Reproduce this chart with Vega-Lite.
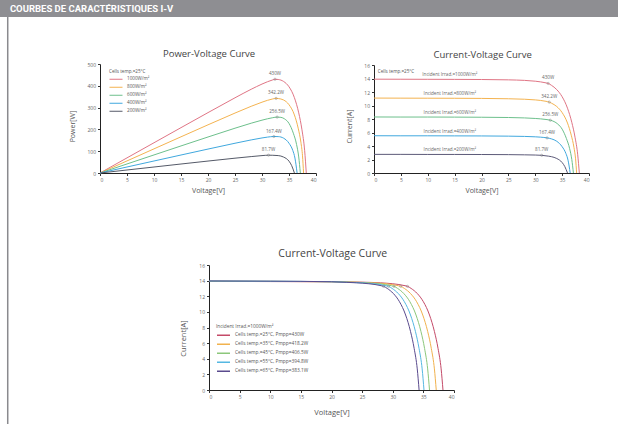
{
  "$schema": "https://vega.github.io/schema/vega-lite/v6.json",
  "width": 618,
  "height": 424,
  "padding": 0,
  "autosize": {"type": "none"},
  "background": "white",
  "config": {
    "view": {"stroke": null},
    "font": "Open Sans",
    "axis": {
      "domainColor": "#222",
      "domainWidth": 1,
      "tickColor": "#333",
      "tickSize": 2.5,
      "labelColor": "#666",
      "labelFontSize": 5,
      "labelPadding": 2,
      "titleFontSize": 7,
      "titleFontWeight": "normal",
      "titleColor": "#555",
      "grid": false
    },
    "legend": {"titleFontWeight": "normal", "titleColor": "#555", "labelColor": "#555", "padding": 0}
  },
  "datasets": {
    "one": [{"k": 1}],
    "irr": [
      {"s": "1000W/m²", "V": 0, "I": 13.9, "P": 0},
      {"s": "1000W/m²", "V": 5, "I": 13.89, "P": 69.45},
      {"s": "1000W/m²", "V": 10, "I": 13.88, "P": 138.8},
      {"s": "1000W/m²", "V": 15, "I": 13.87, "P": 208.05},
      {"s": "1000W/m²", "V": 20, "I": 13.85, "P": 277},
      {"s": "1000W/m²", "V": 25, "I": 13.8, "P": 345},
      {"s": "1000W/m²", "V": 28, "I": 13.72, "P": 384.16},
      {"s": "1000W/m²", "V": 30, "I": 13.6, "P": 408},
      {"s": "1000W/m²", "V": 31, "I": 13.5, "P": 418.5},
      {"s": "1000W/m²", "V": 32, "I": 13.35, "P": 427.2},
      {"s": "1000W/m²", "V": 32.4, "I": 13.27, "P": 429.95},
      {"s": "1000W/m²", "V": 33, "I": 13.0, "P": 429},
      {"s": "1000W/m²", "V": 34, "I": 12.35, "P": 419.9},
      {"s": "1000W/m²", "V": 35, "I": 11.3, "P": 395.5},
      {"s": "1000W/m²", "V": 36, "I": 9.6, "P": 345.6},
      {"s": "1000W/m²", "V": 36.8, "I": 7.5, "P": 276},
      {"s": "1000W/m²", "V": 37.4, "I": 5.3, "P": 198.22},
      {"s": "1000W/m²", "V": 37.9, "I": 2.7, "P": 102.33},
      {"s": "1000W/m²", "V": 38.2, "I": 0, "P": 0},
      {"s": "800W/m²", "V": 0, "I": 11.1, "P": 0},
      {"s": "800W/m²", "V": 5, "I": 11.09, "P": 55.45},
      {"s": "800W/m²", "V": 10, "I": 11.08, "P": 110.8},
      {"s": "800W/m²", "V": 15, "I": 11.07, "P": 166.05},
      {"s": "800W/m²", "V": 20, "I": 11.05, "P": 221},
      {"s": "800W/m²", "V": 25, "I": 11.0, "P": 275},
      {"s": "800W/m²", "V": 28, "I": 10.93, "P": 306.04},
      {"s": "800W/m²", "V": 30, "I": 10.83, "P": 324.9},
      {"s": "800W/m²", "V": 31, "I": 10.75, "P": 333.25},
      {"s": "800W/m²", "V": 32, "I": 10.62, "P": 339.84},
      {"s": "800W/m²", "V": 32.6, "I": 10.5, "P": 342.3},
      {"s": "800W/m²", "V": 33, "I": 10.35, "P": 341.55},
      {"s": "800W/m²", "V": 34, "I": 9.85, "P": 334.9},
      {"s": "800W/m²", "V": 35, "I": 8.95, "P": 313.25},
      {"s": "800W/m²", "V": 36, "I": 7.4, "P": 266.4},
      {"s": "800W/m²", "V": 36.7, "I": 5.6, "P": 205.52},
      {"s": "800W/m²", "V": 37.2, "I": 3.8, "P": 141.36},
      {"s": "800W/m²", "V": 37.5, "I": 2.1, "P": 78.75},
      {"s": "800W/m²", "V": 37.7, "I": 0, "P": 0},
      {"s": "600W/m²", "V": 0, "I": 8.3, "P": 0},
      {"s": "600W/m²", "V": 5, "I": 8.29, "P": 41.45},
      {"s": "600W/m²", "V": 10, "I": 8.29, "P": 82.9},
      {"s": "600W/m²", "V": 15, "I": 8.28, "P": 124.2},
      {"s": "600W/m²", "V": 20, "I": 8.26, "P": 165.2},
      {"s": "600W/m²", "V": 25, "I": 8.22, "P": 205.5},
      {"s": "600W/m²", "V": 28, "I": 8.16, "P": 228.48},
      {"s": "600W/m²", "V": 30, "I": 8.08, "P": 242.4},
      {"s": "600W/m²", "V": 31, "I": 8.02, "P": 248.62},
      {"s": "600W/m²", "V": 32, "I": 7.93, "P": 253.76},
      {"s": "600W/m²", "V": 32.8, "I": 7.82, "P": 256.5},
      {"s": "600W/m²", "V": 33.5, "I": 7.62, "P": 255.27},
      {"s": "600W/m²", "V": 34.2, "I": 7.25, "P": 247.95},
      {"s": "600W/m²", "V": 35, "I": 6.5, "P": 227.5},
      {"s": "600W/m²", "V": 35.8, "I": 5.1, "P": 182.58},
      {"s": "600W/m²", "V": 36.4, "I": 3.6, "P": 131.04},
      {"s": "600W/m²", "V": 36.8, "I": 2.0, "P": 73.6},
      {"s": "600W/m²", "V": 37.1, "I": 0, "P": 0},
      {"s": "400W/m²", "V": 0, "I": 5.52, "P": 0},
      {"s": "400W/m²", "V": 5, "I": 5.51, "P": 27.55},
      {"s": "400W/m²", "V": 10, "I": 5.51, "P": 55.1},
      {"s": "400W/m²", "V": 15, "I": 5.5, "P": 82.5},
      {"s": "400W/m²", "V": 20, "I": 5.49, "P": 109.8},
      {"s": "400W/m²", "V": 25, "I": 5.46, "P": 136.5},
      {"s": "400W/m²", "V": 28, "I": 5.42, "P": 151.76},
      {"s": "400W/m²", "V": 30, "I": 5.36, "P": 160.8},
      {"s": "400W/m²", "V": 31, "I": 5.31, "P": 164.61},
      {"s": "400W/m²", "V": 32.2, "I": 5.2, "P": 167.44},
      {"s": "400W/m²", "V": 33, "I": 5.06, "P": 166.98},
      {"s": "400W/m²", "V": 34, "I": 4.7, "P": 159.8},
      {"s": "400W/m²", "V": 35, "I": 3.9, "P": 136.5},
      {"s": "400W/m²", "V": 35.7, "I": 2.9, "P": 103.53},
      {"s": "400W/m²", "V": 36.1, "I": 1.9, "P": 68.59},
      {"s": "400W/m²", "V": 36.5, "I": 0, "P": 0},
      {"s": "200W/m²", "V": 0, "I": 2.76, "P": 0},
      {"s": "200W/m²", "V": 5, "I": 2.76, "P": 13.8},
      {"s": "200W/m²", "V": 10, "I": 2.75, "P": 27.5},
      {"s": "200W/m²", "V": 15, "I": 2.75, "P": 41.25},
      {"s": "200W/m²", "V": 20, "I": 2.74, "P": 54.8},
      {"s": "200W/m²", "V": 25, "I": 2.72, "P": 68},
      {"s": "200W/m²", "V": 28, "I": 2.69, "P": 75.32},
      {"s": "200W/m²", "V": 30, "I": 2.66, "P": 79.8},
      {"s": "200W/m²", "V": 31.2, "I": 2.62, "P": 81.74},
      {"s": "200W/m²", "V": 32, "I": 2.54, "P": 81.28},
      {"s": "200W/m²", "V": 33, "I": 2.42, "P": 79.86},
      {"s": "200W/m²", "V": 34, "I": 2.15, "P": 73.1},
      {"s": "200W/m²", "V": 35, "I": 1.55, "P": 54.25},
      {"s": "200W/m²", "V": 35.5, "I": 0.95, "P": 33.73},
      {"s": "200W/m²", "V": 36, "I": 0, "P": 0}
    ],
    "mpp": [
      {"s": "1000W/m²", "V": 32.4, "I": 13.27, "P": 430, "lbl": "430W", "Isc": 13.9, "irr": "Incident Irrad.=1000W/m²"},
      {"s": "800W/m²", "V": 32.6, "I": 10.5, "P": 342.2, "lbl": "342.2W", "Isc": 11.1, "irr": "Incident Irrad.=800W/m²"},
      {"s": "600W/m²", "V": 32.8, "I": 7.82, "P": 256.5, "lbl": "256.5W", "Isc": 8.3, "irr": "Incident Irrad.=600W/m²"},
      {"s": "400W/m²", "V": 32.2, "I": 5.2, "P": 167.4, "lbl": "167.4W", "Isc": 5.52, "irr": "Incident Irrad.=400W/m²"},
      {"s": "200W/m²", "V": 31.2, "I": 2.62, "P": 81.7, "lbl": "81.7W", "Isc": 2.76, "irr": "Incident Irrad.=200W/m²"}
    ],
    "temp": [
      {"t": "Cells temp.=25°C, Pmpp=430W", "V": 0, "I": 13.9},
      {"t": "Cells temp.=25°C, Pmpp=430W", "V": 10, "I": 13.88},
      {"t": "Cells temp.=25°C, Pmpp=430W", "V": 20, "I": 13.85},
      {"t": "Cells temp.=25°C, Pmpp=430W", "V": 25, "I": 13.8},
      {"t": "Cells temp.=25°C, Pmpp=430W", "V": 28, "I": 13.72},
      {"t": "Cells temp.=25°C, Pmpp=430W", "V": 30, "I": 13.6},
      {"t": "Cells temp.=25°C, Pmpp=430W", "V": 31, "I": 13.5},
      {"t": "Cells temp.=25°C, Pmpp=430W", "V": 32, "I": 13.35},
      {"t": "Cells temp.=25°C, Pmpp=430W", "V": 32.4, "I": 13.27},
      {"t": "Cells temp.=25°C, Pmpp=430W", "V": 33, "I": 13.0},
      {"t": "Cells temp.=25°C, Pmpp=430W", "V": 34, "I": 12.35},
      {"t": "Cells temp.=25°C, Pmpp=430W", "V": 35, "I": 11.3},
      {"t": "Cells temp.=25°C, Pmpp=430W", "V": 36, "I": 9.6},
      {"t": "Cells temp.=25°C, Pmpp=430W", "V": 36.8, "I": 7.5},
      {"t": "Cells temp.=25°C, Pmpp=430W", "V": 37.4, "I": 5.3},
      {"t": "Cells temp.=25°C, Pmpp=430W", "V": 37.9, "I": 2.7},
      {"t": "Cells temp.=25°C, Pmpp=430W", "V": 38.2, "I": 0},
      {"t": "Cells temp.=35°C, Pmpp=418.2W", "V": 0, "I": 13.92},
      {"t": "Cells temp.=35°C, Pmpp=418.2W", "V": 10, "I": 13.9},
      {"t": "Cells temp.=35°C, Pmpp=418.2W", "V": 20, "I": 13.86},
      {"t": "Cells temp.=35°C, Pmpp=418.2W", "V": 25, "I": 13.78},
      {"t": "Cells temp.=35°C, Pmpp=418.2W", "V": 26.9, "I": 13.72},
      {"t": "Cells temp.=35°C, Pmpp=418.2W", "V": 28.9, "I": 13.6},
      {"t": "Cells temp.=35°C, Pmpp=418.2W", "V": 29.9, "I": 13.5},
      {"t": "Cells temp.=35°C, Pmpp=418.2W", "V": 30.9, "I": 13.35},
      {"t": "Cells temp.=35°C, Pmpp=418.2W", "V": 31.3, "I": 13.27},
      {"t": "Cells temp.=35°C, Pmpp=418.2W", "V": 31.9, "I": 13.0},
      {"t": "Cells temp.=35°C, Pmpp=418.2W", "V": 32.9, "I": 12.35},
      {"t": "Cells temp.=35°C, Pmpp=418.2W", "V": 33.9, "I": 11.3},
      {"t": "Cells temp.=35°C, Pmpp=418.2W", "V": 34.9, "I": 9.6},
      {"t": "Cells temp.=35°C, Pmpp=418.2W", "V": 35.7, "I": 7.5},
      {"t": "Cells temp.=35°C, Pmpp=418.2W", "V": 36.3, "I": 5.3},
      {"t": "Cells temp.=35°C, Pmpp=418.2W", "V": 36.8, "I": 2.7},
      {"t": "Cells temp.=35°C, Pmpp=418.2W", "V": 37.1, "I": 0},
      {"t": "Cells temp.=45°C, Pmpp=406.5W", "V": 0, "I": 13.93},
      {"t": "Cells temp.=45°C, Pmpp=406.5W", "V": 10, "I": 13.91},
      {"t": "Cells temp.=45°C, Pmpp=406.5W", "V": 20, "I": 13.86},
      {"t": "Cells temp.=45°C, Pmpp=406.5W", "V": 24, "I": 13.78},
      {"t": "Cells temp.=45°C, Pmpp=406.5W", "V": 25.8, "I": 13.72},
      {"t": "Cells temp.=45°C, Pmpp=406.5W", "V": 27.8, "I": 13.6},
      {"t": "Cells temp.=45°C, Pmpp=406.5W", "V": 28.8, "I": 13.5},
      {"t": "Cells temp.=45°C, Pmpp=406.5W", "V": 29.8, "I": 13.35},
      {"t": "Cells temp.=45°C, Pmpp=406.5W", "V": 30.2, "I": 13.27},
      {"t": "Cells temp.=45°C, Pmpp=406.5W", "V": 30.8, "I": 13.0},
      {"t": "Cells temp.=45°C, Pmpp=406.5W", "V": 31.8, "I": 12.35},
      {"t": "Cells temp.=45°C, Pmpp=406.5W", "V": 32.8, "I": 11.3},
      {"t": "Cells temp.=45°C, Pmpp=406.5W", "V": 33.8, "I": 9.6},
      {"t": "Cells temp.=45°C, Pmpp=406.5W", "V": 34.6, "I": 7.5},
      {"t": "Cells temp.=45°C, Pmpp=406.5W", "V": 35.2, "I": 5.3},
      {"t": "Cells temp.=45°C, Pmpp=406.5W", "V": 35.7, "I": 2.7},
      {"t": "Cells temp.=45°C, Pmpp=406.5W", "V": 36.0, "I": 0},
      {"t": "Cells temp.=55°C, Pmpp=394.8W", "V": 0, "I": 13.95},
      {"t": "Cells temp.=55°C, Pmpp=394.8W", "V": 10, "I": 13.92},
      {"t": "Cells temp.=55°C, Pmpp=394.8W", "V": 20, "I": 13.86},
      {"t": "Cells temp.=55°C, Pmpp=394.8W", "V": 23, "I": 13.78},
      {"t": "Cells temp.=55°C, Pmpp=394.8W", "V": 24.9, "I": 13.72},
      {"t": "Cells temp.=55°C, Pmpp=394.8W", "V": 26.9, "I": 13.6},
      {"t": "Cells temp.=55°C, Pmpp=394.8W", "V": 27.9, "I": 13.5},
      {"t": "Cells temp.=55°C, Pmpp=394.8W", "V": 28.9, "I": 13.35},
      {"t": "Cells temp.=55°C, Pmpp=394.8W", "V": 29.3, "I": 13.27},
      {"t": "Cells temp.=55°C, Pmpp=394.8W", "V": 29.9, "I": 13.0},
      {"t": "Cells temp.=55°C, Pmpp=394.8W", "V": 30.9, "I": 12.35},
      {"t": "Cells temp.=55°C, Pmpp=394.8W", "V": 31.9, "I": 11.3},
      {"t": "Cells temp.=55°C, Pmpp=394.8W", "V": 32.9, "I": 9.6},
      {"t": "Cells temp.=55°C, Pmpp=394.8W", "V": 33.7, "I": 7.5},
      {"t": "Cells temp.=55°C, Pmpp=394.8W", "V": 34.3, "I": 5.3},
      {"t": "Cells temp.=55°C, Pmpp=394.8W", "V": 34.8, "I": 2.7},
      {"t": "Cells temp.=55°C, Pmpp=394.8W", "V": 35.1, "I": 0},
      {"t": "Cells temp.=65°C, Pmpp=383.1W", "V": 0, "I": 13.96},
      {"t": "Cells temp.=65°C, Pmpp=383.1W", "V": 10, "I": 13.93},
      {"t": "Cells temp.=65°C, Pmpp=383.1W", "V": 20, "I": 13.86},
      {"t": "Cells temp.=65°C, Pmpp=383.1W", "V": 22.5, "I": 13.78},
      {"t": "Cells temp.=65°C, Pmpp=383.1W", "V": 24.1, "I": 13.72},
      {"t": "Cells temp.=65°C, Pmpp=383.1W", "V": 26.1, "I": 13.6},
      {"t": "Cells temp.=65°C, Pmpp=383.1W", "V": 27.1, "I": 13.5},
      {"t": "Cells temp.=65°C, Pmpp=383.1W", "V": 28.1, "I": 13.35},
      {"t": "Cells temp.=65°C, Pmpp=383.1W", "V": 28.5, "I": 13.27},
      {"t": "Cells temp.=65°C, Pmpp=383.1W", "V": 29.1, "I": 13.0},
      {"t": "Cells temp.=65°C, Pmpp=383.1W", "V": 30.1, "I": 12.35},
      {"t": "Cells temp.=65°C, Pmpp=383.1W", "V": 31.1, "I": 11.3},
      {"t": "Cells temp.=65°C, Pmpp=383.1W", "V": 32.1, "I": 9.6},
      {"t": "Cells temp.=65°C, Pmpp=383.1W", "V": 32.9, "I": 7.5},
      {"t": "Cells temp.=65°C, Pmpp=383.1W", "V": 33.5, "I": 5.3},
      {"t": "Cells temp.=65°C, Pmpp=383.1W", "V": 34.0, "I": 2.7},
      {"t": "Cells temp.=65°C, Pmpp=383.1W", "V": 34.3, "I": 0}
    ],
    "tmpp": [
      {"t": "Cells temp.=25°C, Pmpp=430W", "V": 32.4, "I": 13.27},
      {"t": "Cells temp.=35°C, Pmpp=418.2W", "V": 31.3, "I": 13.27},
      {"t": "Cells temp.=45°C, Pmpp=406.5W", "V": 30.2, "I": 13.27},
      {"t": "Cells temp.=55°C, Pmpp=394.8W", "V": 29.3, "I": 13.27},
      {"t": "Cells temp.=65°C, Pmpp=383.1W", "V": 28.5, "I": 13.27}
    ]
  },
  "layer": [
    {
      "data": {"name": "one"},
      "layer": [
        {
          "mark": {"type": "rule", "color": "#8a8a8e", "strokeWidth": 1.5},
          "encoding": {
            "x": {"datum": 0.0125, "type": "quantitative", "scale": {"domain": [0, 1], "range": [0, 618], "nice": false}, "axis": null}
          }
        },
        {
          "mark": {"type": "rect", "color": "#8e8e92"},
          "encoding": {
            "x": {"datum": 0, "type": "quantitative", "axis": null},
            "x2": {"datum": 1},
            "y": {"datum": 0, "type": "quantitative", "scale": {"domain": [0, 1], "range": [0, 17], "nice": false}, "axis": null},
            "y2": {"datum": 1}
          }
        },
        {
          "mark": {"type": "text", "text": "COURBES DE CARACTÉRISTIQUES I-V", "color": "white", "font": "Roboto", "fontWeight": "bold", "fontSize": 9.5, "align": "left", "baseline": "middle"},
          "encoding": {
            "x": {"datum": 0.016, "type": "quantitative", "axis": null},
            "y": {"datum": 0.55, "type": "quantitative", "axis": null}
          }
        }
      ]
    },
    {
      "layer": [
        {
          "data": {"name": "irr"},
          "mark": {"type": "line", "strokeWidth": 1, "interpolate": "monotone"},
          "encoding": {
            "x": {"field": "V", "type": "quantitative", "scale": {"domain": [0, 40], "range": [100, 316], "nice": false},
              "axis": {"orient": "bottom", "offset": -251, "values": [0, 5, 10, 15, 20, 25, 30, 35, 40], "title": "Voltage[V]", "titlePadding": 4}},
            "y": {"field": "P", "type": "quantitative", "scale": {"domain": [0, 500], "range": [173, 64], "nice": false},
              "axis": {"orient": "left", "offset": -100, "values": [0, 100, 200, 300, 400, 500], "title": "Power[W]", "titlePadding": 11, "titleY": 126}},
            "color": {"field": "s", "type": "nominal",
              "scale": {"domain": ["1000W/m²", "800W/m²", "600W/m²", "400W/m²", "200W/m²"], "range": ["#e07585", "#f4b350", "#6dc08c", "#40a8de", "#555a68"]},
              "legend": {"orient": "none", "legendX": 109, "legendY": 69, "title": "Cells temp.=25°C", "titleFontSize": 4.6, "labelFontSize": 4.6, "symbolType": "stroke", "symbolSize": 169, "symbolStrokeWidth": 1, "clipHeight": 7.3, "rowPadding": 0, "titlePadding": 2, "labelOffset": 4}}
          }
        },
        {
          "data": {"name": "mpp"},
          "mark": {"type": "text", "fontSize": 4.6, "color": "#666", "dy": -5},
          "encoding": {
            "x": {"field": "V", "type": "quantitative"},
            "y": {"field": "P", "type": "quantitative"},
            "text": {"field": "lbl"}
          }
        },
        {
          "data": {"name": "mpp"},
          "mark": {"type": "point", "size": 5, "color": "#777", "strokeWidth": 0.6},
          "encoding": {
            "x": {"field": "V", "type": "quantitative"},
            "y": {"field": "P", "type": "quantitative"}
          }
        },
        {
          "data": {"name": "one"},
          "mark": {"type": "text", "text": "Power-Voltage Curve", "fontSize": 9.5, "color": "#444"},
          "encoding": {
            "x": {"datum": 20.2, "type": "quantitative"},
            "y": {"datum": 546, "type": "quantitative"}
          }
        }
      ]
    },
    {
      "layer": [
        {
          "data": {"name": "irr"},
          "mark": {"type": "line", "strokeWidth": 1, "interpolate": "monotone"},
          "encoding": {
            "x": {"field": "V", "type": "quantitative", "scale": {"domain": [0, 40], "range": [374, 589], "nice": false},
              "axis": {"orient": "bottom", "offset": -251, "values": [0, 5, 10, 15, 20, 25, 30, 35, 40], "title": "Voltage[V]", "titlePadding": 4}},
            "y": {"field": "I", "type": "quantitative", "scale": {"domain": [0, 16], "range": [173, 65], "nice": false},
              "axis": {"orient": "left", "offset": -374, "values": [0, 2, 4, 6, 8, 10, 12, 14, 16], "title": "Current[A]", "titlePadding": 11, "titleY": 126}},
            "color": {"field": "s", "type": "nominal",
              "scale": {"domain": ["1000W/m²", "800W/m²", "600W/m²", "400W/m²", "200W/m²"], "range": ["#e07585", "#f4b350", "#6dc08c", "#40a8de", "#5c5a78"]},
              "legend": null}
          }
        },
        {
          "data": {"name": "mpp"},
          "mark": {"type": "text", "fontSize": 4.6, "color": "#666", "dy": -5},
          "encoding": {
            "x": {"field": "V", "type": "quantitative"},
            "y": {"field": "I", "type": "quantitative"},
            "text": {"field": "lbl"}
          }
        },
        {
          "data": {"name": "mpp"},
          "mark": {"type": "point", "size": 5, "color": "#777", "strokeWidth": 0.6},
          "encoding": {
            "x": {"field": "V", "type": "quantitative"},
            "y": {"field": "I", "type": "quantitative"}
          }
        },
        {
          "data": {"name": "mpp"},
          "mark": {"type": "text", "fontSize": 4.6, "color": "#666", "dy": -4},
          "encoding": {
            "x": {"datum": 14.1, "type": "quantitative"},
            "y": {"field": "Isc", "type": "quantitative"},
            "text": {"field": "irr"}
          }
        },
        {
          "data": {"name": "one"},
          "mark": {"type": "text", "text": "Cells temp.=25°C", "fontSize": 4.6, "color": "#555", "align": "left"},
          "encoding": {
            "x": {"datum": 0.7, "type": "quantitative"},
            "y": {"datum": 15.0, "type": "quantitative"}
          }
        },
        {
          "data": {"name": "one"},
          "mark": {"type": "text", "text": "Current-Voltage Curve", "fontSize": 9.5, "color": "#444"},
          "encoding": {
            "x": {"datum": 20.2, "type": "quantitative"},
            "y": {"datum": 17.5, "type": "quantitative"}
          }
        }
      ]
    },
    {
      "layer": [
        {
          "data": {"name": "temp"},
          "mark": {"type": "line", "strokeWidth": 1, "interpolate": "monotone"},
          "encoding": {
            "x": {"field": "V", "type": "quantitative", "scale": {"domain": [0, 40], "range": [209, 454], "nice": false},
              "axis": {"orient": "bottom", "offset": -34, "values": [0, 5, 10, 15, 20, 25, 30, 35, 40], "title": "Voltage[V]", "titlePadding": 9, "titleFontSize": 7.5}},
            "y": {"field": "I", "type": "quantitative", "scale": {"domain": [0, 16], "range": [390, 265], "nice": false},
              "axis": {"orient": "left", "offset": -209, "values": [0, 2, 4, 6, 8, 10, 12, 14, 16], "title": "Current[A]", "titlePadding": 11, "titleY": 338, "titleFontSize": 7.5}},
            "color": {"field": "t", "type": "nominal",
              "scale": {"domain": ["Cells temp.=25°C, Pmpp=430W", "Cells temp.=35°C, Pmpp=418.2W", "Cells temp.=45°C, Pmpp=406.5W", "Cells temp.=55°C, Pmpp=394.8W", "Cells temp.=65°C, Pmpp=383.1W"], "range": ["#c44a68", "#f1b24e", "#8cc77b", "#55b8e2", "#5a4b8e"]},
              "legend": {"orient": "none", "legendX": 216, "legendY": 324, "title": "Incident Irrad.=1000W/m²", "titleFontSize": 4.8, "labelFontSize": 4.8, "symbolType": "stroke", "symbolSize": 169, "symbolStrokeWidth": 1.6, "clipHeight": 9, "rowPadding": 0, "titlePadding": 2, "labelOffset": 4}}
          }
        },
        {
          "data": {"name": "tmpp"},
          "mark": {"type": "point", "size": 5, "color": "#777", "strokeWidth": 0.6},
          "encoding": {
            "x": {"field": "V", "type": "quantitative"},
            "y": {"field": "I", "type": "quantitative"}
          }
        },
        {
          "data": {"name": "one"},
          "mark": {"type": "text", "text": "Current-Voltage Curve", "fontSize": 10.5, "color": "#444"},
          "encoding": {
            "x": {"datum": 20.2, "type": "quantitative"},
            "y": {"datum": 17.4, "type": "quantitative"}
          }
        }
      ]
    }
  ],
  "resolve": {"scale": {"x": "independent", "y": "independent", "color": "independent"}}
}
